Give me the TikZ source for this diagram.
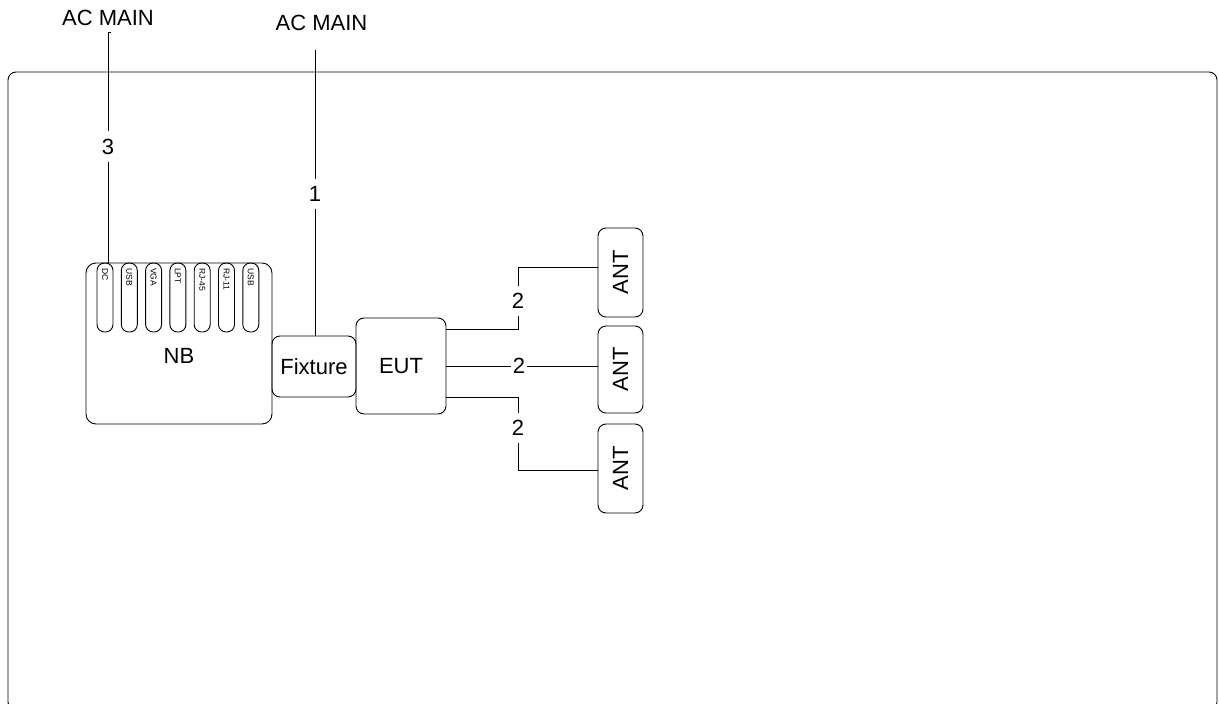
\documentclass[tikz,border=0pt]{standalone}
\usepackage{fontspec}
\setmainfont{Liberation Sans}
\begin{document}
\begin{tikzpicture}[x=1pt,y=-1pt,
  every node/.style={font=\fontsize{22}{26}\selectfont},
  box/.style={draw, rounded corners=8pt, line width=0.9pt, inner sep=0pt},
  wire/.style={draw, line width=0.9pt},
  port/.style={draw, rounded corners=7.5pt, minimum width=16pt, minimum height=69pt, inner sep=0pt, line width=0.9pt},
  portlbl/.style={rotate=-90, anchor=west, font=\fontsize{8.5}{10}\selectfont, inner sep=0pt},
  num/.style={fill=white, inner xsep=2pt, inner ysep=7.5pt},
]
\useasboundingbox (0,0) rectangle (1219,704);
\draw[line width=0.9pt, rounded corners=8pt] (8,72) rectangle (1217,710);

% AC MAIN labels
\node (ac1) at (108,18) {AC MAIN};
\node (ac2) at (321.5,22.5) {AC MAIN};
\coordinate (top3) at (108,32);
\coordinate (tick3) at (110.5,32);
\coordinate (top1) at (315,50);

% NB
\node[box, rounded corners=10pt, minimum width=186pt, minimum height=161pt] (nb) at (179,343.5) {};
\node (nblbl) at (179,356) {NB};
\foreach \i/\t in {0/DC,1/USB,2/VGA,3/LPT,4/RJ-45,5/RJ-11,6/USB}{
  \node[port] (p\i) at ({105+24.3*\i},297.5) {};
  \node[portlbl] (pl\i) at ([yshift=-5.5pt]p\i.north) {\t};
}

% Fixture, EUT
\node[box, minimum width=84pt, minimum height=61pt] (fix) at (314,366.5) {Fixture};
\node[box, minimum width=90pt, minimum height=96pt] (eut) at (401,366) {EUT};

% ANT
\node[box, minimum width=45pt, minimum height=89pt] (a1) at (620.5,272.5) {\rotatebox{90}{ANT}};
\node[box, minimum width=45pt, minimum height=87pt] (a2) at (620.5,369.5) {\rotatebox{90}{ANT}};
\node[box, minimum width=45pt, minimum height=89pt] (a3) at (620.5,468.5) {\rotatebox{90}{ANT}};

% number labels
\node[num] (n3) at (108,146.5) {3};
\node[num] (n1) at (315,194) {1};
\node[num] (n2a) at (518,301) {2};
\node[num, inner ysep=2pt] (n2b) at (519,366) {2};
\node[num] (n2c) at (518,428) {2};

% wires
\draw[wire] (tick3) -- (top3) -- (n3.north);
\draw[wire] (n3.south) -- (n3.south |- p0.north);
\draw[wire] (top1) -- (n1.north);
\draw[wire] (n1.south) -- (n1.south |- fix.north);
\draw[wire] ([yshift=37pt]eut.east) -| (n2a.south);
\draw[wire] (n2a.north) |- ([yshift=5.5pt]a1.west);
\draw[wire] (eut.east) -- (n2b.west);
\draw[wire] (n2b.east) -- (n2b.east -| a2.west);
\draw[wire] ([yshift=-31pt]eut.east) -| (n2c.north);
\draw[wire] (n2c.south) |- ([yshift=-1.5pt]a3.west);
\end{tikzpicture}
\end{document}
